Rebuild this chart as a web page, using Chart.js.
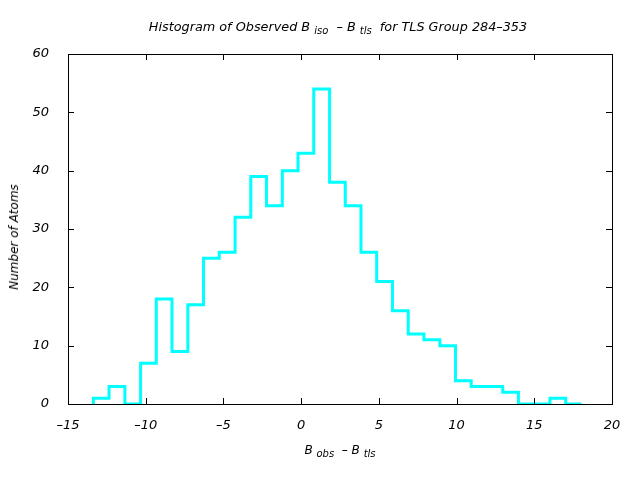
<!DOCTYPE html>
<html>
<head>
<meta charset="utf-8">
<script src="https://cdn.jsdelivr.net/npm/chart.js@4/dist/chart.umd.min.js"></script>
<style>
  body { margin: 0; background: #fff; }
  #wrap { position: relative; width: 640px; height: 480px; }
  canvas { position: absolute; left: 0; top: 0; }
  .lbl { position: absolute; font-family: "DejaVu Sans", sans-serif; font-style: italic; font-size: 12px; color: #000; white-space: nowrap; }
  .lbl sub { font-size: 10px; vertical-align: -3px; }
</style>
</head>
<body>
<div id="wrap">
  <canvas id="histChart" width="640" height="480"></canvas>
  <div class="lbl" id="title" style="left:0; width:676px; top:19px; font-size:12.8px; text-align:center;">Histogram of Observed B <sub>iso</sub> &nbsp;– B <sub>tls</sub> &nbsp;for TLS Group 284–353</div>
  <div class="lbl" id="xlabel" style="left:68px; width:544px; top:443px; text-align:center;">B <sub>obs</sub> &nbsp;– B <sub>tls</sub></div>
  <div class="lbl" id="ylabel" style="left:14px; top:237px; transform: translate(-50%, -50%) rotate(-90deg);">Number of Atoms</div>
</div>
<script>
// bin left edges (last entry = right edge of last bin)
const binEdges = [-13.37, -12.36, -11.34, -10.33, -9.32, -8.31, -7.29, -6.28, -5.27, -4.25,
                  -3.24, -2.23, -1.21, -0.20, 0.81, 1.83, 2.84, 3.85, 4.86, 5.88,
                  6.89, 7.90, 8.92, 9.93, 10.94, 11.96, 12.97, 13.98, 15.00, 16.01,
                  17.02, 18.04];
const counts = [1, 3, 0, 7, 18, 9, 17, 25, 26, 32,
                39, 34, 40, 43, 54, 38, 34, 26, 21, 16,
                12, 11, 10, 4, 3, 3, 2, 0, 0, 1,
                0];
const xTicks = [-15, -10, -5, 0, 5, 10, 15, 20];
const yTicks = [0, 10, 20, 30, 40, 50, 60];

// step points: start at 0, one point per bin, close at last edge
const points = [{ x: binEdges[0], y: 0 }];
counts.forEach((c, i) => points.push({ x: binEdges[i], y: c }));
points.push({ x: binEdges[binEdges.length - 1], y: 0 });

const tickFont = { family: 'DejaVu Sans', style: 'italic', size: 13 };
const dashLabel = v => String(v).replace('-', '–');

// gnuplot-style inward ticks on all four sides
const inwardTicks = {
    id: 'inwardTicks',
    afterDraw(chart) {
        const { ctx, chartArea: a, scales } = chart;
        ctx.save();
        ctx.strokeStyle = '#000';
        ctx.lineWidth = 1;
        ctx.beginPath();
        xTicks.forEach(v => {
            const px = Math.round(scales.x.getPixelForValue(v)) + 0.5;
            ctx.moveTo(px, a.bottom); ctx.lineTo(px, a.bottom - 6);
            ctx.moveTo(px, a.top); ctx.lineTo(px, a.top + 6);
        });
        yTicks.forEach(v => {
            const py = Math.round(scales.y.getPixelForValue(v)) + 0.5;
            ctx.moveTo(a.left, py); ctx.lineTo(a.left + 6, py);
            ctx.moveTo(a.right, py); ctx.lineTo(a.right - 6, py);
        });
        ctx.stroke();
        ctx.strokeRect(Math.round(a.left) + 0.5, Math.round(a.top) + 0.5,
                       Math.round(a.right - a.left), Math.round(a.bottom - a.top));
        ctx.restore();
    }
};

new Chart(document.getElementById('histChart').getContext('2d'), {
    type: 'line',
    data: {
        datasets: [{
            data: points,
            stepped: 'before',
            borderColor: '#00ffff',
            borderWidth: 3,
            pointRadius: 0,
            fill: false
        }]
    },
    options: {
        responsive: false,
        animation: false,
        events: [],
        layout: { padding: { top: 54, right: 28, left: 0, bottom: 0 } },
        plugins: { legend: { display: false }, tooltip: { enabled: false } },
        scales: {
            x: {
                type: 'linear',
                min: -15, max: 20,
                afterBuildTicks: s => { s.ticks = xTicks.map(v => ({ value: v })); },
                afterFit: s => { s.height = 76; },
                grid: { display: false },
                border: { display: false },
                ticks: { color: '#000', font: tickFont, padding: 6, maxRotation: 0, callback: dashLabel }
            },
            y: {
                type: 'linear',
                min: 0, max: 60,
                afterBuildTicks: s => { s.ticks = yTicks.map(v => ({ value: v })); },
                afterFit: s => { s.width = 68; },
                grid: { display: false },
                border: { display: false },
                ticks: { color: '#000', font: tickFont, padding: 11, callback: dashLabel }
            }
        }
    },
    plugins: [inwardTicks]
});
</script>
</body>
</html>
